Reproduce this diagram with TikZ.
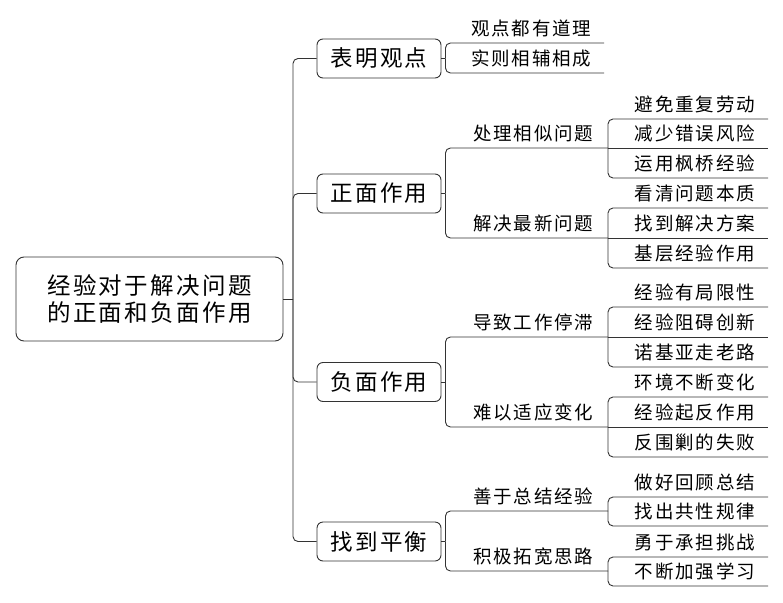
\documentclass[tikz,border=0pt]{standalone}
\usepackage{fontspec}
\setmainfont[LetterSpace=10]{Noto Sans CJK SC}

\begin{document}
\begin{tikzpicture}[x=1pt, y=-1pt,
		link/.style={line width=0.9pt, draw=black!80, rounded corners=5pt},
		rootbox/.style={draw=black!80, line width=0.9pt, rounded corners=8pt, minimum width=267pt, minimum height=84pt, inner sep=0pt, align=center, font=\fontsize{23.5}{26.5}\selectfont},
		topic/.style={draw=black!80, line width=0.9pt, rounded corners=6pt, minimum width=124pt, minimum height=39pt, inner sep=0pt, font=\fontsize{22.5}{24}\selectfont},
		leaf/.style={anchor=south east, inner sep=0pt, minimum height=28pt, font=\fontsize{18.5}{20}\selectfont, execute at begin node={\hspace*{14pt}}},
		subtopic/.style={leaf, minimum width=163pt},
		detail/.style={leaf, minimum width=160pt}]
		%%%%% START %%%%%
		
		\useasboundingbox (0,0) rectangle (783,602);
		
		\node[rootbox] (root) at (149.5,299) {经验对于解决问题\\的正面和负面作用};
		
		\node[topic] (bm) at (379,58.5) {表明观点};
		\node[topic] (zm) at (379,193.5) {正面作用};
		\node[topic] (fm) at (379,382) {负面作用};
		\node[topic] (ph) at (379,541.5) {找到平衡};
		
		\node[subtopic, minimum width=159pt] (bm1) at (604,43) {观点都有道理};
		\node[subtopic, minimum width=159pt] (bm2) at (604,73) {实则相辅相成};
		\node[subtopic] (zm1) at (608,148) {处理相似问题};
		\node[subtopic] (zm2) at (608,238) {解决最新问题};
		\node[subtopic] (fm1) at (608,337) {导致工作停滞};
		\node[subtopic] (fm2) at (608,427) {难以适应变化};
		\node[subtopic] (ph1) at (608,511) {善于总结经验};
		\node[subtopic] (ph2) at (608,571) {积极拓宽思路};
		
		\node[detail] (zm1a) at (768,119) {避免重复劳动};
		\node[detail] (zm1b) at (768,148) {减少错误风险};
		\node[detail] (zm1c) at (768,178) {运用枫桥经验};
		\node[detail] (zm2a) at (768,208) {看清问题本质};
		\node[detail] (zm2b) at (768,238) {找到解决方案};
		\node[detail] (zm2c) at (768,268) {基层经验作用};
		\node[detail] (fm1a) at (768,307) {经验有局限性};
		\node[detail] (fm1b) at (768,337) {经验阻碍创新};
		\node[detail] (fm1c) at (768,367) {诺基亚走老路};
		\node[detail] (fm2a) at (768,397) {环境不断变化};
		\node[detail] (fm2b) at (768,427) {经验起反作用};
		\node[detail] (fm2c) at (768,457) {反围剿的失败};
		\node[detail] (ph1a) at (768,497) {做好回顾总结};
		\node[detail] (ph1b) at (768,526) {找出共性规律};
		\node[detail] (ph2a) at (768,557) {勇于承担挑战};
		\node[detail] (ph2b) at (768,586) {不断加强学习};
		
		% connectors
		\coordinate (trunk) at (293,299);
		\draw[link] (root) -- (trunk);
		\foreach \t in {bm,zm,fm,ph} {
			\draw[link] (trunk) |- (\t.west);
			\draw[link] (\t.east) -- ++(4,0) coordinate (\t-j);
			\draw[link] (\t-j) |- (\t1.south east);
			\draw[link] (\t-j) |- (\t2.south east);
		}
		\foreach \p in {zm1,zm2,fm1,fm2} {
			\draw[link] (\p.south east) |- (\p a.south east);
			\draw[link] (\p.south east) -- (\p b.south east);
			\draw[link] (\p.south east) |- (\p c.south east);
		}
		\foreach \p in {ph1,ph2} {
			\draw[link] (\p.south east) |- (\p a.south east);
			\draw[link] (\p.south east) |- (\p b.south east);
		}
		
		%%%%% END %%%%%
	\end{tikzpicture}
\end{document}
